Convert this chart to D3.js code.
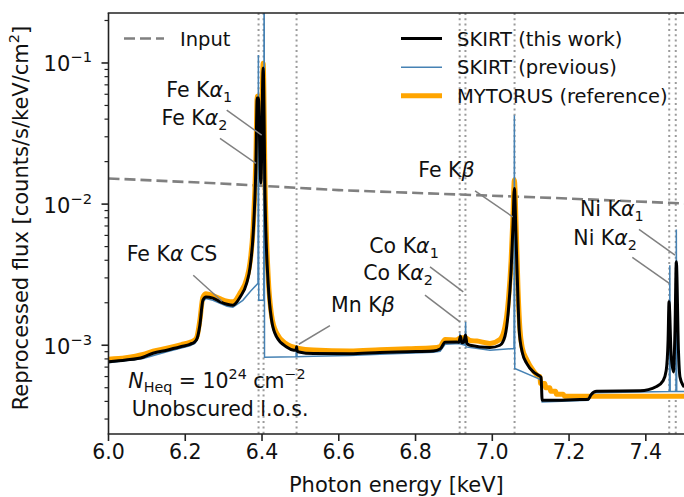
<!DOCTYPE html>
<html><head><meta charset="utf-8">
<script src="https://cdn.jsdelivr.net/npm/d3@7"></script>
<style>
body{margin:0;background:#fff;}
svg{display:block;}
text{font-family:"DejaVu Sans",sans-serif;fill:#111;}
</style>
</head><body>
<svg id="chart" width="684" height="497"></svg>
<script>
// ---------------- DATA ----------------
const xTicks = [6.0, 6.2, 6.4, 6.6, 6.8, 7.0, 7.2, 7.4];
const xTickLabels = ["6.0", "6.2", "6.4", "6.6", "6.8", "7.0", "7.2", "7.4"];
const yMajorTicks = [1e-3, 1e-2, 1e-1];
const yTickExponents = ["\u22123", "\u22122", "\u22121"];

// energies of the marked fluorescent lines (vertical dotted lines)
const lineEnergies = [6.391, 6.404, 6.490, 6.915, 6.930, 7.058, 7.461, 7.478];

// Input spectrum
const inputEnergy = [6.0, 6.29, 6.60, 7.18, 7.5];
const inputFlux = [0.0152, 0.0140, 0.01256, 0.0110, 0.0101];

// SKIRT (this work)
const thisWorkEnergy = [6.000, 6.045, 6.090, 6.116, 6.152, 6.190, 6.212, 6.225, 6.231, 6.238, 6.246, 6.254, 6.272, 6.290, 6.309, 6.324, 6.343, 6.360, 6.369, 6.377, 6.384, 6.3875, 6.3905, 6.397, 6.403, 6.408, 6.416, 6.425, 6.438, 6.464, 6.483, 6.4885, 6.490, 6.4915, 6.496, 6.534, 6.629, 6.707, 6.780, 6.846, 6.864, 6.877, 6.907, 6.913, 6.917, 6.921, 6.926, 6.930, 6.934, 6.942, 6.994, 7.020, 7.033, 7.042, 7.049, 7.054, 7.0575, 7.062, 7.067, 7.070, 7.078, 7.090, 7.107, 7.120, 7.127, 7.130, 7.168, 7.229, 7.250, 7.257, 7.272, 7.385, 7.428, 7.445, 7.453, 7.458, 7.4605, 7.466, 7.472, 7.476, 7.4795, 7.485, 7.489, 7.500];
const thisWorkFlux = [7.64e-4, 7.85e-4, 8.22e-4, 8.78e-4, 9.22e-4, 9.79e-4, 1.016e-3, 1.06e-3, 1.12e-3, 1.386e-3, 2.085e-3, 2.20e-3, 2.155e-3, 2.04e-3, 1.953e-3, 1.922e-3, 2.2e-3, 2.75e-3, 3.59e-3, 6.2e-3, 0.0184, 0.0565, 0.0565, 0.0141, 0.0922, 0.01067, 2.754e-3, 1.504e-3, 1.146e-3, 9.73e-4, 9.22e-4, 9.2e-4, 9.75e-4, 9.1e-4, 8.96e-4, 8.73e-4, 8.7e-4, 8.88e-4, 9.0e-4, 9.12e-4, 9.4e-4, 1.05e-3, 1.055e-3, 1.05e-3, 1.16e-3, 1.04e-3, 1.05e-3, 1.18e-3, 1.03e-3, 1.0e-3, 9.63e-4, 1.0e-3, 1.158e-3, 1.77e-3, 3.40e-3, 7.10e-3, 0.01292, 5.56e-3, 2.085e-3, 1.277e-3, 8.92e-4, 7.41e-4, 6.47e-4, 6.13e-4, 5.93e-4, 4.07e-4, 4.07e-4, 4.12e-4, 4.15e-4, 4.45e-4, 4.72e-4, 4.75e-4, 5.1e-4, 5.6e-4, 6.6e-4, 1.085e-3, 2.03e-3, 8.5e-4, 6.47e-4, 1.28e-3, 3.90e-3, 9.2e-4, 5.96e-4, 5.06e-4];

// SKIRT (previous)
const previousEnergy = [6.000, 6.090, 6.152, 6.212, 6.225, 6.231, 6.238, 6.246, 6.254, 6.272, 6.309, 6.324, 6.350, 6.370, 6.3895, 6.3905, 6.3915, 6.4045, 6.4055, 6.4065, 6.4885, 6.490, 6.4915, 6.534, 6.629, 6.707, 6.846, 6.864, 6.877, 6.9145, 6.9155, 6.9165, 6.9295, 6.9305, 6.9315, 6.994, 7.0565, 7.0575, 7.0585, 7.120, 7.128, 7.130, 7.250, 7.262, 7.4615, 7.4625, 7.4635, 7.4785, 7.4795, 7.4805, 7.500];
const previousFlux = [7.5e-4, 8.05e-4, 9.0e-4, 9.9e-4, 1.03e-3, 1.09e-3, 1.33e-3, 2.03e-3, 2.14e-3, 2.08e-3, 1.89e-3, 1.86e-3, 2.08e-3, 2.41e-3, 2.75e-3, 0.114, 2.085e-3, 2.085e-3, 1.0, 8.22e-4, 8.29e-4, 9.48e-4, 8.29e-4, 8.35e-4, 8.45e-4, 8.64e-4, 8.92e-4, 9.07e-4, 1.016e-3, 1.03e-3, 1.216e-3, 1.02e-3, 1.0e-3, 1.463e-3, 9.73e-4, 9.22e-4, 9.48e-4, 0.0427, 6.84e-4, 5.8e-4, 5.65e-4, 3.96e-4, 4.07e-4, 4.6e-4, 4.7e-4, 3.69e-3, 4.7e-4, 4.7e-4, 6.62e-3, 4.7e-4, 4.7e-4];

// MYTORUS (reference)
const mytorusEnergy = [6.000, 6.045, 6.090, 6.116, 6.152, 6.190, 6.212, 6.225, 6.231, 6.238, 6.246, 6.254, 6.272, 6.290, 6.309, 6.324, 6.343, 6.360, 6.369, 6.377, 6.384, 6.3875, 6.3905, 6.397, 6.403, 6.408, 6.416, 6.425, 6.438, 6.464, 6.496, 6.534, 6.629, 6.707, 6.780, 6.846, 6.864, 6.877, 6.907, 6.917, 6.930, 6.942, 6.960, 6.994, 7.020, 7.033, 7.042, 7.049, 7.054, 7.0575, 7.062, 7.067, 7.072, 7.078, 7.090, 7.107, 7.120, 7.124, 7.126, 7.137, 7.139, 7.150, 7.152, 7.165, 7.167, 7.185, 7.188, 7.500];
const mytorusFlux = [7.96e-4, 8.15e-4, 8.6e-4, 9.07e-4, 9.52e-4, 1.01e-3, 1.05e-3, 1.09e-3, 1.16e-3, 1.50e-3, 2.19e-3, 2.32e-3, 2.25e-3, 2.14e-3, 2.05e-3, 2.03e-3, 2.35e-3, 2.95e-3, 3.9e-3, 6.9e-3, 0.021, 0.058, 0.058, 0.022, 0.0995, 0.0135, 3.1e-3, 1.62e-3, 1.22e-3, 1.02e-3, 9.5e-4, 9.25e-4, 9.12e-4, 9.3e-4, 9.45e-4, 9.6e-4, 9.8e-4, 1.10e-3, 1.09e-3, 1.13e-3, 1.13e-3, 1.08e-3, 1.07e-3, 1.03e-3, 1.10e-3, 1.35e-3, 2.1e-3, 4.0e-3, 8.5e-3, 0.0148, 7.2e-3, 2.5e-3, 1.30e-3, 9.6e-4, 7.9e-4, 6.6e-4, 6.05e-4, 6.0e-4, 5.36e-4, 5.36e-4, 5.0e-4, 5.0e-4, 4.72e-4, 4.72e-4, 4.5e-4, 4.5e-4, 4.35e-4, 4.35e-4];

// Annotations: text parts, text anchor (E, flux at baseline), leader from (E, flux) to (E, flux)
const annotations = [
  {parts:[["Fe K"],["\u03b1","it"],["1","sub"]], tx:6.1506, ty:0.0574, x1:6.308, y1:0.0464, x2:6.399, y2:0.0308},
  {parts:[["Fe K"],["\u03b1","it"],["2","sub"]], tx:6.1381, ty:0.0366, x1:6.2905, y1:0.0292, x2:6.3843, y2:0.01945},
  {parts:[["Fe K"],["\u03b1","it"],[" CS"]], tx:6.0474, ty:3.94e-3, x1:6.2208, y1:3.13e-3, x2:6.2957, y2:2.05e-3},
  {parts:[["Mn K"],["\u03b2","it"]], tx:6.5797, ty:1.714e-3, x1:6.577, y1:1.375e-3, x2:6.4958, y2:1.016e-3},
  {parts:[["Co K"],["\u03b1","it"],["1","sub"]], tx:6.6795, ty:4.49e-3, x1:6.8377, y1:3.59e-3, x2:6.9244, y2:2.39e-3},
  {parts:[["Co K"],["\u03b1","it"],["2","sub"]], tx:6.6639, ty:2.89e-3, x1:6.8246, y1:2.265e-3, x2:6.9158, y2:1.463e-3},
  {parts:[["Fe K"],["\u03b2","it"]], tx:6.8072, ty:0.01563, x1:6.955, y1:0.0124, x2:7.0532, y2:8.13e-3},
  {parts:[["Ni K"],["\u03b1","it"],["1","sub"]], tx:7.2285, ty:8.22e-3, x1:7.3822, y1:6.62e-3, x2:7.476, y2:4.35e-3},
  {parts:[["Ni K"],["\u03b1","it"],["2","sub"]], tx:7.2111, ty:5.11e-3, x1:7.3648, y1:4.19e-3, x2:7.4612, y2:2.74e-3}
];

// ---------------- CHART ----------------
const svg = d3.select("#chart");
const L = 108.5, R = 684.2, T = 13, B = 434;
const x = d3.scaleLinear().domain([6.0, 7.5]).range([L, R]);
const y = d3.scaleLog().domain([2.35e-4, 0.226]).range([B, T]);

svg.append("defs").append("clipPath").attr("id","plotclip")
  .append("rect").attr("x", L).attr("y", T).attr("width", 700 - L).attr("height", B - T);

const plot = svg.append("g").attr("clip-path","url(#plotclip)");

// dotted vertical line markers
plot.selectAll("line.lev").data(lineEnergies).enter().append("line")
  .attr("x1", d => x(d)).attr("x2", d => x(d)).attr("y1", T).attr("y2", B)
  .attr("stroke","#8a8a8a").attr("stroke-width",2).attr("stroke-dasharray","2,3.3").attr("opacity",0.85);

const zip = (a,b) => a.map((v,i)=>[v,b[i]]);
const lineLin = d3.line().x(d=>x(d[0])).y(d=>y(d[1]));
const lineMono = d3.line().x(d=>x(d[0])).y(d=>y(d[1])).curve(d3.curveMonotoneX);

plot.append("path").attr("d", lineLin(zip(inputEnergy, inputFlux)))
  .attr("fill","none").attr("stroke","#808080").attr("stroke-width",2.6).attr("stroke-dasharray","11,5");

plot.append("path").attr("d", lineMono(zip(mytorusEnergy, mytorusFlux)))
  .attr("fill","none").attr("stroke","#FFA500").attr("stroke-width",5).attr("stroke-linejoin","round");

plot.append("path").attr("d", lineLin(zip(previousEnergy, previousFlux)))
  .attr("fill","none").attr("stroke","#4682B4").attr("stroke-width",1.5);

plot.append("path").attr("d", lineMono(zip(thisWorkEnergy, thisWorkFlux)))
  .attr("fill","none").attr("stroke","#000").attr("stroke-width",3).attr("stroke-linejoin","round");

// spines
const axc = "#222";
svg.append("line").attr("x1",L).attr("x2",L).attr("y1",T).attr("y2",B).attr("stroke",axc).attr("stroke-width",1.6);
svg.append("line").attr("x1",L-0.8).attr("x2",700).attr("y1",B).attr("y2",B).attr("stroke",axc).attr("stroke-width",1.6);
svg.append("line").attr("x1",L-0.8).attr("x2",700).attr("y1",T).attr("y2",T).attr("stroke",axc).attr("stroke-width",1.6);

// x ticks
xTicks.forEach((t,i)=>{
  svg.append("line").attr("x1",x(t)).attr("x2",x(t)).attr("y1",B).attr("y2",B+7).attr("stroke",axc).attr("stroke-width",1.6);
  svg.append("text").attr("x",x(t)).attr("y",458.5).attr("text-anchor","middle").attr("font-size",20.5).text(xTickLabels[i]);
});

// y ticks (major + minor)
const [ylo, yhi] = y.domain();
for (let e = -4; e <= 0; e++) {
  for (let m = 1; m <= 9; m++) {
    const v = m * Math.pow(10, e);
    if (v < ylo || v > yhi) continue;
    const major = (m === 1);
    svg.append("line").attr("x1", L - (major ? 7 : 4)).attr("x2", L).attr("y1", y(v)).attr("y2", y(v))
      .attr("stroke",axc).attr("stroke-width", major ? 1.6 : 1.2);
  }
}
yMajorTicks.forEach((v,i)=>{
  const t = svg.append("text").attr("x",92).attr("y",y(v)+8.5).attr("text-anchor","end").attr("font-size",21);
  t.append("tspan").text("10");
  t.append("tspan").attr("font-size",14.7).attr("dy",-9).text(yTickExponents[i]);
});

// axis labels
svg.append("text").attr("x",(L+R)/2).attr("y",492).attr("text-anchor","middle").attr("font-size",21).text("Photon energy [keV]");
const yl = svg.append("text").attr("transform","translate(28,218) rotate(-90)").attr("text-anchor","middle").attr("font-size",21);
yl.append("tspan").text("Reprocessed flux [counts/s/keV/cm");
yl.append("tspan").attr("font-size",14.7).attr("dy",-9).text("2");
yl.append("tspan").attr("dy",9).text("]");

// rich text helper
function rich(g, parts, size){
  parts.forEach(p=>{
    const ts = g.append("tspan").text(p[0]);
    if (p[1]==="it") ts.attr("font-style","italic");
    if (p[1]==="sub") ts.attr("font-size",size*0.7).attr("dy",size*0.25);
    if (p[1]==="sup") ts.attr("font-size",size*0.7).attr("dy",-size*0.45);
  });
}

annotations.forEach(a=>{
  svg.append("line").attr("x1",x(a.x1)).attr("y1",y(a.y1)).attr("x2",x(a.x2)).attr("y2",y(a.y2))
    .attr("stroke","#808080").attr("stroke-width",1.5);
  const t = svg.append("text").attr("x",x(a.tx)).attr("y",y(a.ty)).attr("font-size",20.5);
  rich(t, a.parts, 20.5);
});

// N_Heq text
const nt = svg.append("text").attr("x",x(6.0516)).attr("y",y(4.98e-4)).attr("font-size",20.5);
nt.append("tspan").attr("font-style","italic").text("N");
nt.append("tspan").attr("font-size",14.3).attr("dy",4).text("Heq");
nt.append("tspan").attr("dy",-4).text(" = 10");
nt.append("tspan").attr("font-size",14.3).attr("dy",-9).text("24");
nt.append("tspan").attr("dy",9).text(" cm");
nt.append("tspan").attr("font-size",14.3).attr("dy",-9).text("\u22122");
svg.append("text").attr("x",x(6.0604)).attr("y",y(3.15e-4)).attr("font-size",20.5).text("Unobscured l.o.s.");

// legends
const lg = svg.append("g");
lg.append("line").attr("x1",124).attr("x2",164).attr("y1",38.5).attr("y2",38.5)
  .attr("stroke","#808080").attr("stroke-width",2.6).attr("stroke-dasharray","11,5");
lg.append("text").attr("x",180).attr("y",45.5).attr("font-size",19.5).text("Input");

const legItems = [
  {label:"SKIRT (this work)", color:"#000", w:3},
  {label:"SKIRT (previous)", color:"#4682B4", w:1.5},
  {label:"MYTORUS (reference)", color:"#FFA500", w:5}
];
const legY = [38.5, 67.3, 95.7];
legItems.forEach((d,i)=>{
  lg.append("line").attr("x1",401).attr("x2",442).attr("y1",legY[i]).attr("y2",legY[i])
    .attr("stroke",d.color).attr("stroke-width",d.w);
  lg.append("text").attr("x",457).attr("y",legY[i]+7).attr("font-size",19.5).text(d.label);
});
</script>
</body></html>
